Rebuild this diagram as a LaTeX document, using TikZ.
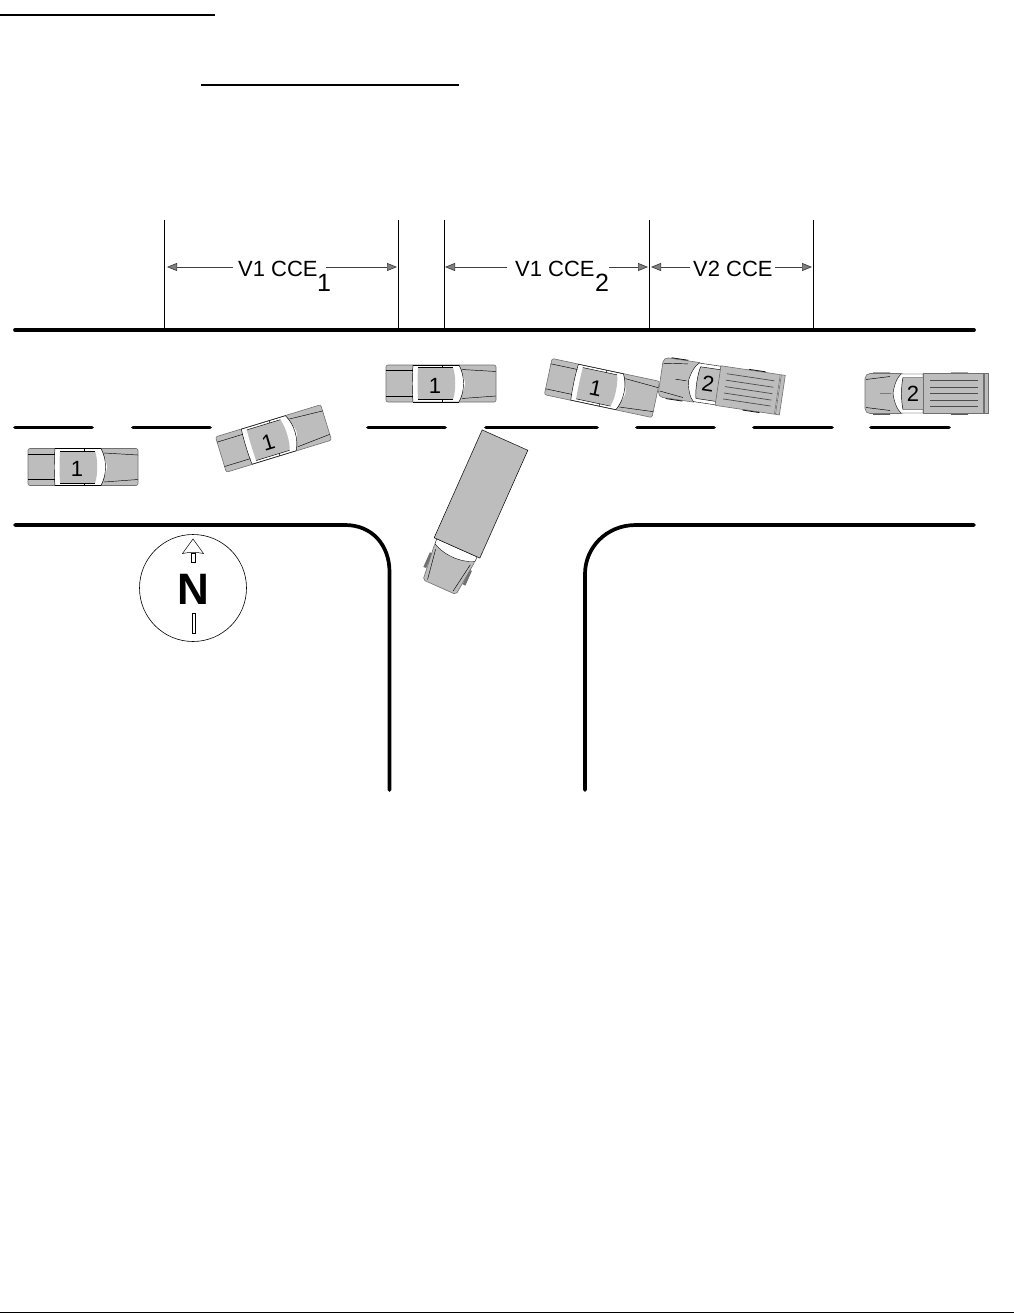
\documentclass[tikz,border=0pt]{standalone}
\usepackage{fontspec}
\setmainfont{Liberation Sans}
\usetikzlibrary{arrows.meta}
\definecolor{vgray}{HTML}{BDBDBD}
\definecolor{edgegray}{HTML}{707070}
\tikzset{
  road/.style={line width=3.7pt,line cap=round,black},
  rule/.style={line width=1.6pt,black},
  ext/.style={line width=0.8pt,black},
  dimR/.style={line width=0.7pt,draw=black!75,-{Triangle[length=10pt,width=8pt,fill=gray]}},
  dimtext/.style={inner sep=0pt,font=\fontsize{22}{22}\selectfont,anchor=base west},
  dimsub/.style={inner sep=0pt,font=\fontsize{25}{25}\selectfont,anchor=base west},
  vnum/.style={inner sep=0pt,transform shape,font=\fontsize{22}{22}\selectfont},
  vline/.style={line width=0.45pt,black},
  bedline/.style={line width=0.7pt,black!70},
  vbody/.style={fill=vgray,draw=edgegray,line width=0.6pt},
  car/.pic={
    \path[vbody,rounded corners=2] (-55,-18.5) rectangle (55,18.5);
    \fill[white] (-28,-18) -- (18,-18) .. controls (21,-9) and (24,-4) .. (24,0) .. controls (24,4) and (21,9) .. (18,18) -- (-28,18) .. controls (-29,8) and (-29,-8) .. (-28,-18) -- cycle;
    \fill[vgray] (-23,-16) -- (12,-16) .. controls (15,-8) and (15,8) .. (12,16) -- (-23,16) .. controls (-23.5,8) and (-23.5,-8) .. (-23,-16) -- cycle;
    \draw[vline] (-23,-16) -- (12,-16) (-23,16) -- (12,16);
    \draw[vline] (-28,-18.5) .. controls (-29,-8) and (-29,8) .. (-28,18.5);
    \draw[vline] (18,-18.5) .. controls (24,-8) and (24,8) .. (18,18.5);
    \draw[vline] (-28,-18.3) -- (18,-18.3) (-28,18.3) -- (18,18.3);
    \draw[vline] (-55,-13) -- (-28,-13) (-55,12.5) -- (-28,12.5);
    \draw[vline] (21,-14) -- (55,-12) (21,15) -- (55,12.5);
    \draw[vline] (1,-18.5) -- (1,-16) (1,16) -- (1,18.5);
    \node[vnum] (num) at (-6,2) {#1};
  },
  pickup/.pic={
    \fill[black] (-53,-21) rectangle (-36,-19) (-53,19) rectangle (-36,21) (25,-21) rectangle (42,-19) (25,19) rectangle (42,21);
    \path[vbody,rounded corners=5] (-61,-20) -- (-20,-20) -- (-20,20) -- (-61,20) -- cycle;
    \fill[white,draw=black,line width=0.4pt] (-33,0) .. controls (-32,-8) and (-29,-16) .. (-25,-19.5) -- (-3,-19.5) -- (-3,19.5) -- (-25,19.5) .. controls (-29,16) and (-32,8) .. (-33,0) -- cycle;
    \fill[vgray] (-23,-16) -- (-3,-16) -- (-3,16) -- (-23,16) .. controls (-25,8) and (-25,-8) .. (-23,-16) -- cycle;
    \draw[vline] (-23,16) .. controls (-25,8) and (-25,-8) .. (-23,-16) -- (-3,-16) (-23,16) -- (-3,16);
    \path[vbody] (-3,-20) rectangle (57,20);
    \path[vbody] (58,-20) rectangle (62,20);
    \draw[vline] (-60,-14) -- (-36,-17) (-60,14) -- (-36,17) (-46,0) -- (-35,0);
    \draw[bedline] (4,-13) -- (52,-13) (4,-6.5) -- (52,-6.5) (4,0) -- (52,0) (4,6.5) -- (52,6.5) (4,12.5) -- (52,12.5);
    \node[vnum] (num) at (-13,0) {#1};
  },
  semi/.pic={
    \fill[edgegray] (74,-23) rectangle (90,-20) (74,20) rectangle (90,23);
    \path[vbody,rounded corners=2] (64,-22) -- (102,-18) -- (102,18) -- (64,22) -- cycle;
    \fill[white,draw=black,line width=0.4pt] (59,-22) -- (64,-22) .. controls (71,-10) and (71,10) .. (64,22) -- (59,22) -- cycle;
    \draw[vline] (69,-19) -- (100,-14) (69,19) -- (100,14);
    \path[fill=vgray,draw=black,line width=0.5pt] (-59,-25) rectangle (59,25);
  }
}
\begin{document}
\begin{tikzpicture}[x=1pt,y=-1pt]
\useasboundingbox (0,0) rectangle (1014,1313);
\fill[white] (0,0) rectangle (1014,1313);
% header / footer rules
\coordinate (ua) at (0,15); \coordinate (ub) at (215,15);
\coordinate (uc) at (201,85); \coordinate (ud) at (459,85);
\coordinate (fa) at (0,1312); \coordinate (fb) at (1014,1312);
\draw[rule] (ua) -- (ub);
\draw[rule] (uc) -- (ud);
\draw[line width=0.8pt,black] (fa) -- (fb);
% extension lines
\foreach \n/\x in {a/164,b/398,c/444,d/649,e/813}{
  \coordinate (t\n) at (\x,220);
  \coordinate (b\n) at (\x,330);
  \draw[ext] (t\n) -- (b\n);
}
% road
\coordinate (r1) at (15,330); \coordinate (r2) at (974,330);
\draw[road] (r1) -- (r2);
\foreach \a/\b in {15/92,133/210,368/445,486/597,637/714,754/832,871/949}{
  \draw[road] (\a,427.5) -- (\b,427.5);
}
\coordinate (l1) at (15,525); \coordinate (l2) at (345,525); \coordinate (l3) at (389.5,572); \coordinate (l4) at (389.5,790);
\draw[road] (l1) -- (l2) .. controls (372,525) and (389.5,545) .. (l3) -- (l4);
\coordinate (m1) at (974,525); \coordinate (m2) at (636,525); \coordinate (m3) at (585,574); \coordinate (m4) at (585,790);
\draw[road] (m1) -- (m2) .. controls (606,525) and (585,548) .. (m3) -- (m4);
% dimension labels
\node[dimtext] (l1a) at (238,276.5) {V1 CCE};
\node[dimsub] (l1b) at (317,292) {1};
\node[dimtext] (l2a) at (515,276.5) {V1 CCE};
\node[dimsub] (l2b) at (595,292) {2};
\node[dimtext] (l3a) at (693,276.5) {V2 CCE};
\coordinate (a1) at (167,267); \coordinate (a1e) at (233,267);
\coordinate (a2) at (397,267); \coordinate (a2e) at (326,267);
\coordinate (a3) at (445,267); \coordinate (a3e) at (507,267);
\coordinate (a4) at (648,267); \coordinate (a4e) at (609,267);
\coordinate (a5) at (651,267); \coordinate (a5e) at (690,267);
\coordinate (a6) at (812,267); \coordinate (a6e) at (775,267);
\draw[dimR] (a1e) -- (a1);
\draw[dimR] (a2e) -- (a2);
\draw[dimR] (a3e) -- (a3);
\draw[dimR] (a4e) -- (a4);
\draw[dimR] (a5e) -- (a5);
\draw[dimR] (a6e) -- (a6);
% compass
\node[circle,draw=black,line width=0.6pt,minimum size=107pt,inner sep=0pt] (compass) at (193,588) {};
\node[inner sep=0pt,font=\bfseries\fontsize{44}{44}\selectfont] (north) at (193,589) {N};
\draw[fill=white,line width=0.5pt] (191.5,553) rectangle (195,562);
\draw[fill=white,line width=0.5pt] (193,539) -- (203.5,553.5) .. controls (197,552) and (189,552) .. (182.5,553.5) -- cycle;
\draw[fill=white,line width=0.5pt] (192,613) rectangle (195,633);
% vehicles
\pic (c1) at (83,467) {car=1};
\pic[rotate=17] (c2) at (273.5,438.5) {car=1};
\pic (c3) at (441,383.5) {car=1};
\pic[rotate=-12] (c4) at (602,388) {car=1};
\pic[rotate=-8.5] (p1) at (721,386) {pickup=2};
\pic (p2) at (926,393.5) {pickup=2};
\pic[rotate=-114] (s1) at (481,494) {semi};
\end{tikzpicture}
\end{document}
